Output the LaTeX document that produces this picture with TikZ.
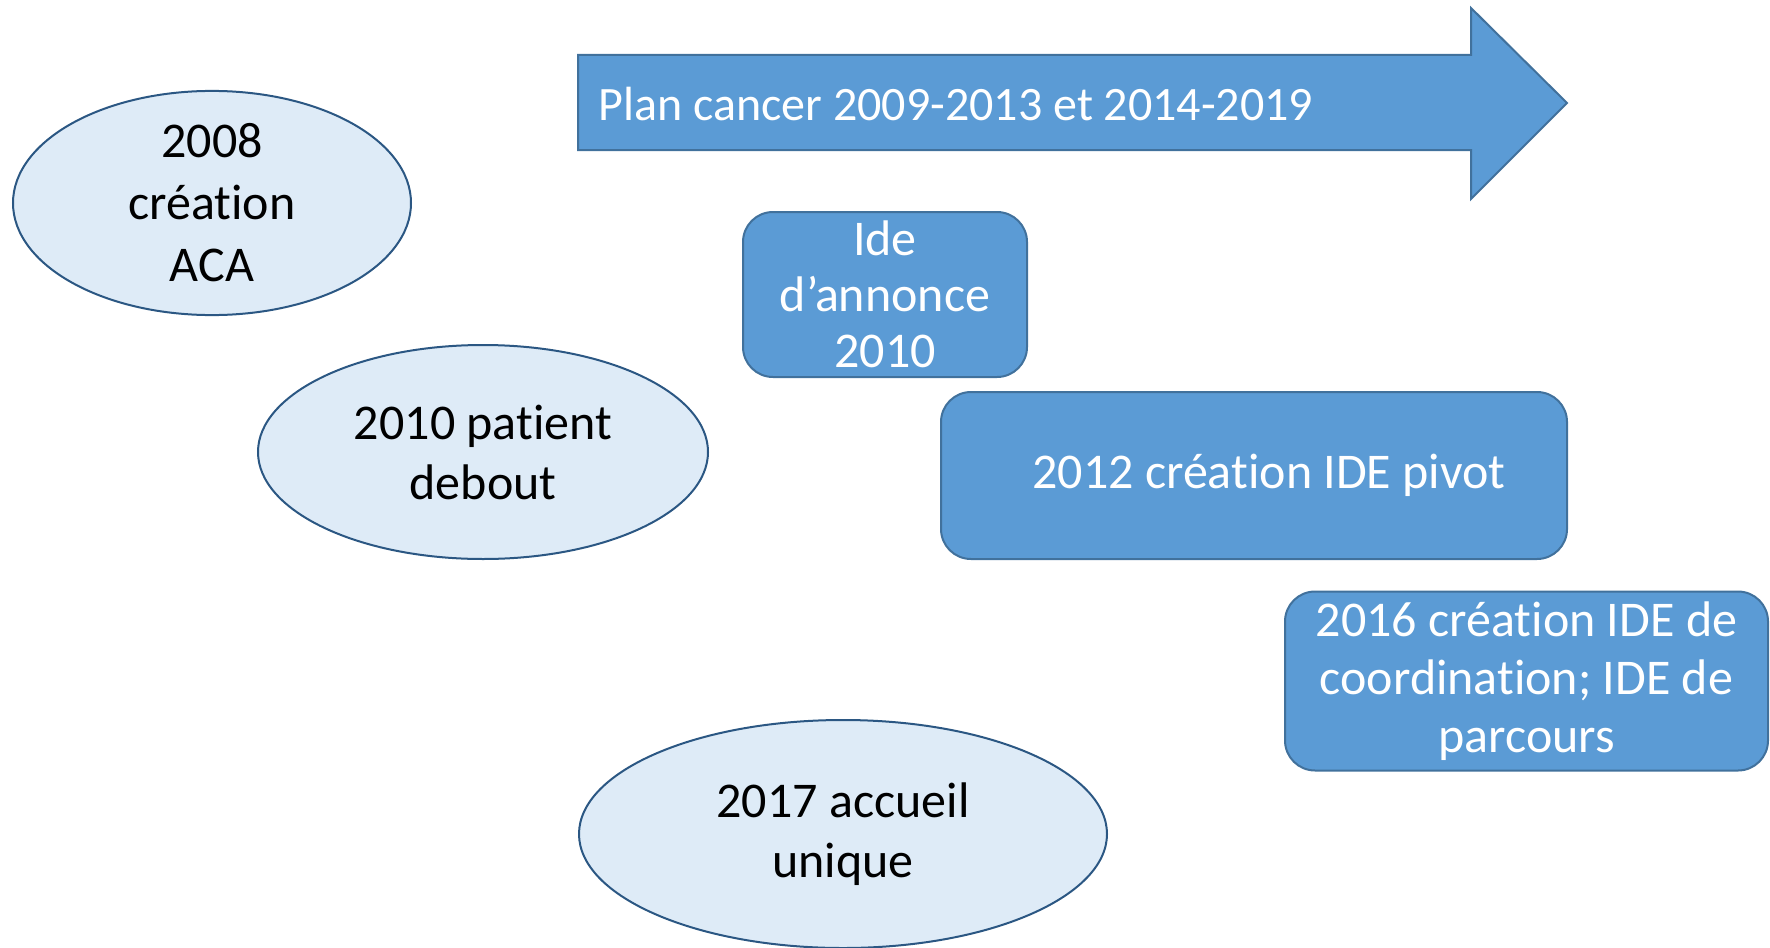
\documentclass[tikz,border=0pt]{standalone}
\usepackage{fontspec}
\setmainfont{Carlito}[Ligatures=NoCommon,RawFeature={-liga;-clig;-dlig;-calt}]
\usetikzlibrary{shapes.geometric}
\definecolor{bluefill}{HTML}{5B9BD5}
\definecolor{blueline}{HTML}{41719C}
\definecolor{ellfill}{HTML}{DEEBF7}
\definecolor{ellline}{HTML}{2B5783}
\newcommand\myti{t\kern0pt i}
\begin{document}
\begin{tikzpicture}[x=0.5pt,y=-0.5pt,
  ev/.style={ellipse, draw=ellline, line width=1pt, fill=ellfill, inner sep=0pt, align=center, text=black, font=\fontsize{25}{30}\selectfont},
  bx/.style={rectangle, rounded corners=15pt, draw=blueline, line width=1pt, fill=bluefill, text=white, inner sep=0pt, align=center, font=\fontsize{25}{29}\selectfont},
  arrowshape/.style={draw=blueline, line width=1pt, fill=bluefill, line join=miter}]
\useasboundingbox (0,0) rectangle (1770,947);
% big arrow
\draw[arrowshape] (578,55) -- (1471,55) -- (1471,8) -- (1567,103) -- (1471,199) -- (1471,150) -- (578,150) -- cycle;
\node[anchor=west, text=white, font=\fontsize{24}{28}\selectfont, inner sep=0pt] (plan) at (598,104) {Plan cancer 2009-2013 et 2014-2019};
% ellipses
\node[ev, minimum width=199pt, minimum height=109pt, font=\fontsize{25}{31}\selectfont] (aca) at (212,203) {2008\\créa\myti on\\ACA};
\node[ev, minimum width=225pt, minimum height=107pt] (debout) at (483,452) {2010 pa\myti ent\\debout};
\node[ev, minimum width=264pt, minimum height=114pt] (accueil) at (843,834) {2017 accueil\\unique};
% boxes
\node[bx, minimum width=142pt, minimum height=82.5pt, font=\fontsize{25}{28}\selectfont] (annonce) at (885,294.5) {Ide\\d’annonce\\2010};
\node[bx, minimum width=313pt, minimum height=83.5pt] (pivot) at (1254,475.5) {\hspace*{15pt}2012 créa\myti on IDE pivot};
\node[bx, minimum width=241.5pt, minimum height=89.5pt] (coord) at (1526.5,681) {2016 créa\myti on IDE de\\coordina\myti on; IDE de\\parcours};
\end{tikzpicture}
\end{document}
